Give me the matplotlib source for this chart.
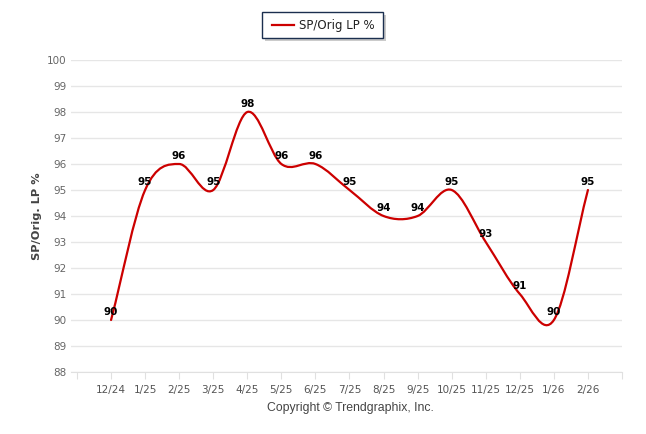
import matplotlib
matplotlib.use("Agg")
import matplotlib.pyplot as plt
from matplotlib.path import Path
from matplotlib.patches import PathPatch, FancyBboxPatch
from matplotlib.lines import Line2D
import numpy as np

categories = ["12/24", "1/25", "2/25", "3/25", "4/25", "5/25", "6/25", "7/25",
              "8/25", "9/25", "10/25", "11/25", "12/25", "1/26", "2/26"]
values = [90, 95, 96, 95, 98, 96, 96, 95, 94, 94, 95, 93, 91, 90, 95]
series_name = "SP/Orig LP %"
y_title = "SP/Orig. LP %"
y_ticks = list(range(88, 101))

W, H = 646, 434
fig = plt.figure(figsize=(W / 100, H / 100), dpi=100)
L, R, T, B = 71, 622, 60, 372
ax = fig.add_axes([L / W, 1 - B / H, (R - L) / W, (B - T) / H])

xs = np.arange(len(values), dtype=float)
ys = np.array(values, dtype=float)
n = len(xs)

# Catmull-Rom tangents (secant at ends)
m = np.zeros(n)
m[0] = ys[1] - ys[0]
m[-1] = ys[-1] - ys[-2]
for i in range(1, n - 1):
    m[i] = (ys[i + 1] - ys[i - 1]) / 2.0

verts = [(xs[0], ys[0])]
codes = [Path.MOVETO]
for i in range(n - 1):
    verts += [(xs[i] + 1 / 3, ys[i] + m[i] / 3),
              (xs[i + 1] - 1 / 3, ys[i + 1] - m[i + 1] / 3),
              (xs[i + 1], ys[i + 1])]
    codes += [Path.CURVE4] * 3

red = "#cc0000"
ax.add_patch(PathPatch(Path(verts, codes), facecolor="none", edgecolor=red,
                       lw=1.6, capstyle="round", joinstyle="round", zorder=3))

for x, v in zip(xs, ys):
    ax.annotate(f"{int(v)}", (x, v), xytext=(0, 2), textcoords="offset points",
                ha="center", va="bottom", fontsize=7.5, fontweight="bold",
                color="black", zorder=4)

ax.set_xlim(-1 - 6 / 34.07, len(values))
ax.set_ylim(88, 100)
ax.set_yticks(y_ticks)
ax.set_yticklabels([str(t) for t in y_ticks])
ax.set_xticks(list(range(-1, len(values) + 1)))
ax.set_xticklabels([""] + categories + [""])
ax.grid(axis="y", color="#e6e6e6", lw=1)
ax.set_axisbelow(True)
for s in ["top", "right", "left"]:
    ax.spines[s].set_visible(False)
ax.spines["bottom"].set_color("#e0e0e0")
ax.tick_params(axis="y", length=0, pad=3, labelsize=7.5, labelcolor="#666666")
ax.tick_params(axis="x", length=5, color="#e0e0e0", pad=4, labelsize=7.5,
               labelcolor="#555555")
ax.set_ylabel(y_title, fontsize=8.2, fontweight="bold", color="#444444", labelpad=4)

# legend
fig.patches.append(FancyBboxPatch((265 / W, 1 - 41 / H), 121 / W, 26 / H,
                                  boxstyle="square,pad=0", transform=fig.transFigure,
                                  facecolor="#999999", edgecolor="none", alpha=0.5))
fig.patches.append(FancyBboxPatch((262 / W, 1 - 38 / H), 121 / W, 26 / H,
                                  boxstyle="square,pad=0", transform=fig.transFigure,
                                  facecolor="white", edgecolor="#1b2f4f", lw=1))
fig.lines.append(Line2D([272 / W, 294 / W], [1 - 25 / H, 1 - 25 / H],
                        transform=fig.transFigure, color=red, lw=1.6))
fig.text(299 / W, 1 - 25 / H, series_name, fontsize=8.5, color="#222222",
         va="center", ha="left")

fig.text(350 / W, 1 - 408 / H, "Copyright © Trendgraphix, Inc.", fontsize=8.8,
         family="Liberation Sans", color="#444444", ha="center", va="center")

fig.savefig("out.png", dpi=100)
